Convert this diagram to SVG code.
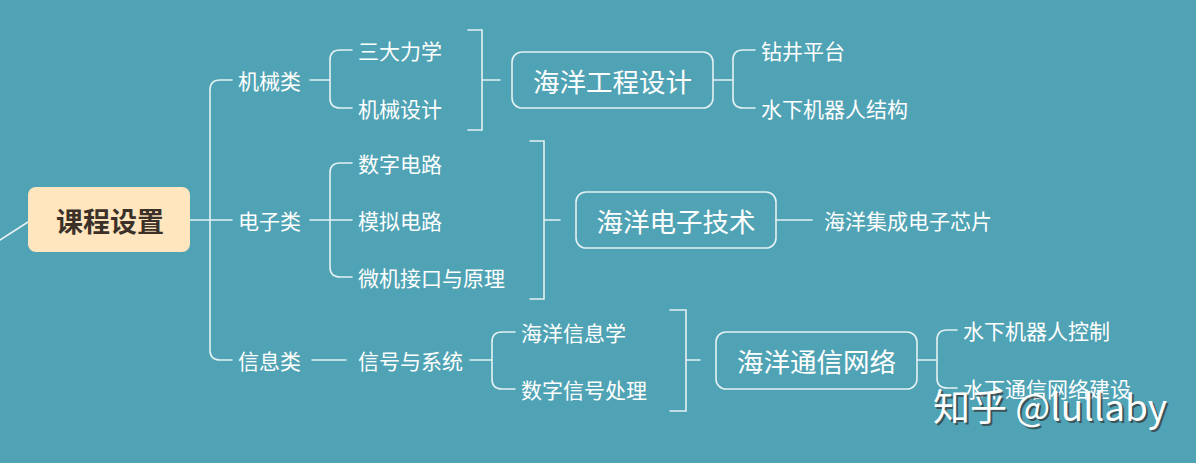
<svg xmlns="http://www.w3.org/2000/svg" width="1196" height="463" viewBox="0 0 1196 463">
<defs>
<style>
.ln{fill:none;stroke:#e4f1f3;stroke-width:1.6;stroke-linecap:round}
.t{font-family:"Microsoft YaHei","Noto Sans CJK SC",sans-serif;font-size:21px;fill:#ffffff;dominant-baseline:central}
.bx{fill:none;stroke:#e4f1f3;stroke-width:1.6}
.bt{font-family:"Microsoft YaHei","Noto Sans CJK SC",sans-serif;font-size:26.5px;fill:#ffffff;text-anchor:middle;dominant-baseline:central}
</style>
</defs>
<rect width="1196" height="463" fill="#50a3b4"/>
<g id="connectors">
<line class="ln" x1="0" y1="240" x2="28" y2="222"/>
<path class="ln" d="M190 220 H232 M232 80 H220 Q210 80 210 90 V350 Q210 360 220 360 H232"/>
<path class="ln" d="M310 80 H330 M352 50 H340 Q330 50 330 60 V98 Q330 108 340 108 H352"/>
<path class="ln" d="M468 30 H482 V130 H468 M482 80 H500"/>
<path class="ln" d="M713 80 H733 M755 50 H743 Q733 50 733 60 V98 Q733 108 743 108 H755"/>
<path class="ln" d="M310 220 H352 M352 163 H340 Q330 163 330 173 V267 Q330 277 340 277 H352"/>
<path class="ln" d="M530 141 H544 V299 H530 M544 220 H560"/>
<path class="ln" d="M776 220 H812"/>
<path class="ln" d="M312 360 H346 M470 360 H492 M515 332 H502 Q492 332 492 342 V379 Q492 389 502 389 H515"/>
<path class="ln" d="M670 310 H686 V411 H670 M686 360 H700"/>
<path class="ln" d="M917 360 H937 M957 330 H947 Q937 330 937 340 V378 Q937 388 947 388 H957"/>
</g>
<g id="root">
<rect x="28" y="187" width="162" height="65" rx="8" fill="#ffe6bf"/>
<text x="110" y="220" class="bt" style="font-weight:bold;fill:#3b3128;font-size:27px">课程设置</text>
</g>
<g id="n-jixie"><text class="t" x="238" y="80">机械类</text></g>
<g id="n-dianzi"><text class="t" x="238" y="220">电子类</text></g>
<g id="n-xinxi"><text class="t" x="238" y="360">信息类</text></g>
<g id="n-sanda"><text class="t" x="358" y="50">三大力学</text></g>
<g id="n-jxsj"><text class="t" x="358" y="108">机械设计</text></g>
<g id="n-szdl"><text class="t" x="358" y="163">数字电路</text></g>
<g id="n-mndl"><text class="t" x="358" y="220">模拟电路</text></g>
<g id="n-wjjk"><text class="t" x="358" y="277">微机接口与原理</text></g>
<g id="n-xhyxt"><text class="t" x="358" y="360">信号与系统</text></g>
<g id="n-hyxxx"><text class="t" x="521" y="332">海洋信息学</text></g>
<g id="n-szxhcl"><text class="t" x="521" y="389">数字信号处理</text></g>
<g id="b-gcsj">
<rect class="bx" x="512" y="52" width="201" height="56" rx="10"/>
<text class="bt" x="612.5" y="80">海洋工程设计</text>
</g>
<g id="b-dzjs">
<rect class="bx" x="576" y="192" width="200" height="56" rx="10"/>
<text class="bt" x="676" y="220">海洋电子技术</text>
</g>
<g id="b-txwl">
<rect class="bx" x="716" y="332" width="201" height="57" rx="10"/>
<text class="bt" x="816.5" y="360">海洋通信网络</text>
</g>
<g id="n-zjpt"><text class="t" x="761" y="50">钻井平台</text></g>
<g id="n-sxjqrjg"><text class="t" x="761" y="108">水下机器人结构</text></g>
<g id="n-jcdz"><text class="t" x="824" y="220">海洋集成电子芯片</text></g>
<g id="n-sxjqrkz"><text class="t" x="963" y="330">水下机器人控制</text></g>
<g id="n-sxtx"><text class="t" x="963" y="388">水下通信网络建设</text></g>
<g id="watermark">
<text x="935" y="423" style="font-family:'Noto Sans CJK SC',sans-serif;font-size:37px;fill:#333333;opacity:0.7">知乎 @lullaby</text>
<text x="933" y="421" style="font-family:'Noto Sans CJK SC',sans-serif;font-size:37px;fill:#ffffff">知乎 @lullaby</text>
</g>
</svg>
